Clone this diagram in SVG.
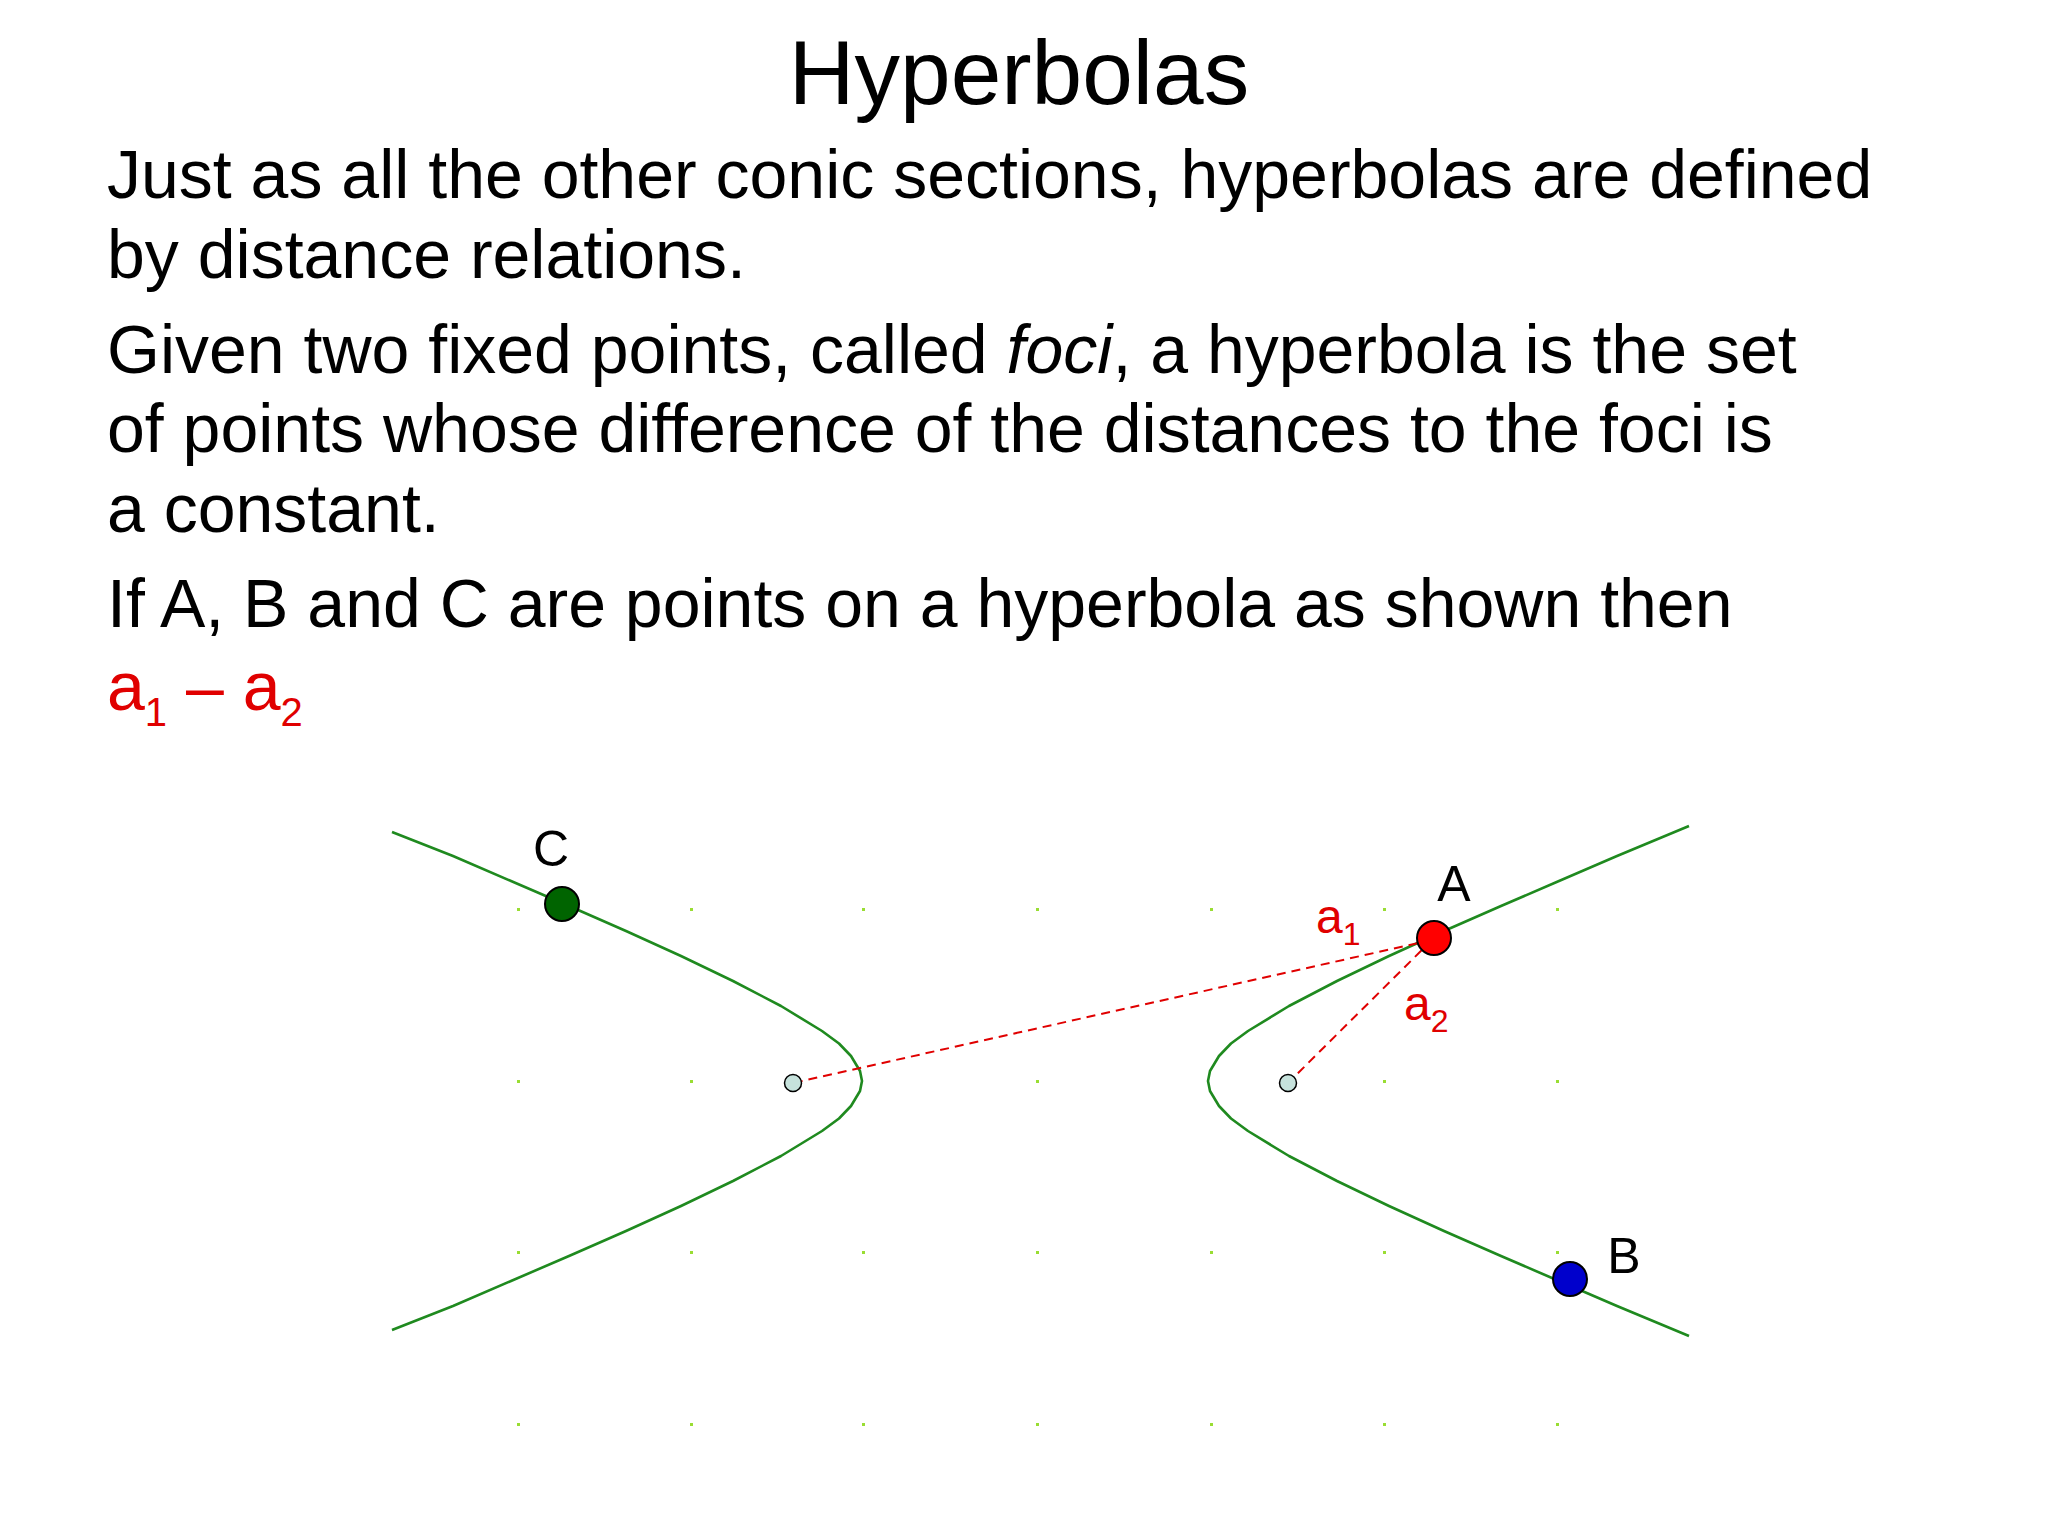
<svg xmlns="http://www.w3.org/2000/svg" width="2048" height="1536" viewBox="0 0 2048 1536">
<style>
text{font-family:"Liberation Sans",Arial,sans-serif}
.b{font-size:68px;fill:#000}
.r{fill:#e00000}
.g{fill:#99dd33}
.cv{fill:none;stroke:#1f8a1f;stroke-width:2.6;stroke-linejoin:round}
.d{stroke:#e00000;stroke-width:2;stroke-dasharray:9,6}
.lbl{font-size:50px;fill:#000}
</style>
<rect width="2048" height="1536" fill="#fff"/>
<text x="1019" y="104" font-size="91" text-anchor="middle">Hyperbolas</text>
<text class="b" x="107" y="198">Just as all the other conic sections, hyperbolas are defined</text>
<text class="b" x="107" y="278">by distance relations.</text>
<text class="b" x="107" y="373">Given two fixed points, called <tspan font-style="italic">foci</tspan>, a hyperbola is the set</text>
<text class="b" x="107" y="452">of points whose difference of the distances to the foci is</text>
<text class="b" x="107" y="532">a constant.</text>
<text class="b" x="107" y="627">If A, B and C are points on a hyperbola as shown then</text>
<text class="b r" x="107" y="710">a<tspan font-size="40" dy="16">1</tspan><tspan dy="-16"> – a</tspan><tspan font-size="40" dy="16">2</tspan></text>
<g id="grid">
<g class="g">
<rect x="517" y="908" width="3" height="3"/><rect x="690" y="908" width="3" height="3"/><rect x="862" y="908" width="3" height="3"/><rect x="1036" y="908" width="3" height="3"/><rect x="1210" y="908" width="3" height="3"/><rect x="1383" y="908" width="3" height="3"/><rect x="1556" y="908" width="3" height="3"/>
<rect x="517" y="1080" width="3" height="3"/><rect x="690" y="1080" width="3" height="3"/><rect x="1036" y="1080" width="3" height="3"/><rect x="1383" y="1080" width="3" height="3"/><rect x="1556" y="1080" width="3" height="3"/>
<rect x="517" y="1251" width="3" height="3"/><rect x="690" y="1251" width="3" height="3"/><rect x="862" y="1251" width="3" height="3"/><rect x="1036" y="1251" width="3" height="3"/><rect x="1210" y="1251" width="3" height="3"/><rect x="1383" y="1251" width="3" height="3"/><rect x="1556" y="1251" width="3" height="3"/>
<rect x="517" y="1423" width="3" height="3"/><rect x="690" y="1423" width="3" height="3"/><rect x="862" y="1423" width="3" height="3"/><rect x="1036" y="1423" width="3" height="3"/><rect x="1210" y="1423" width="3" height="3"/><rect x="1383" y="1423" width="3" height="3"/><rect x="1556" y="1423" width="3" height="3"/>
</g>
</g>
<g id="curves">
<polyline class="cv" points="1689,826 1617,856 1559,881 1501,906 1444,931 1389,956 1337,981 1289,1006 1248,1031 1231,1043.5 1219,1056 1210,1071 1208,1081 1210,1091 1219,1106 1231,1118.5 1248,1131 1289,1156 1337,1181 1389,1206 1444,1231 1501,1256 1559,1281 1617,1306 1689,1336"/>
<polyline class="cv" points="392,832 453,856 511,881 569,906 626,931 681,956 733,981 781,1006 822,1031 839,1043.5 851,1056 860,1071 862,1081 860,1091 851,1106 839,1118.5 822,1131 781,1156 733,1181 681,1206 626,1231 569,1256 511,1281 453,1306 392,1330"/>
</g>
<g id="connectors">
<line class="d" x1="1432" y1="940" x2="793" y2="1083"/>
<line class="d" x1="1432" y1="940" x2="1288" y2="1083"/>
</g>
<g id="focus1"><circle cx="793" cy="1083" r="8.5" fill="#c6e2dc" stroke="#000" stroke-width="1.5"/></g>
<g id="focus2"><circle cx="1288" cy="1083" r="8.5" fill="#c6e2dc" stroke="#000" stroke-width="1.5"/></g>
<g id="A"><circle cx="1434" cy="938" r="17" fill="#ff0000" stroke="#000" stroke-width="2"/><text class="lbl" x="1454" y="901" text-anchor="middle">A</text></g>
<g id="B"><circle cx="1570" cy="1279" r="17" fill="#0000cc" stroke="#000" stroke-width="2"/><text class="lbl" x="1624" y="1273" text-anchor="middle">B</text></g>
<g id="C"><circle cx="562" cy="904" r="17" fill="#006400" stroke="#000" stroke-width="2"/><text class="lbl" x="551" y="866" text-anchor="middle">C</text></g>
<g id="a1"><text class="r" font-size="48" x="1316" y="933">a<tspan font-size="32" dy="12">1</tspan></text></g>
<g id="a2"><text class="r" font-size="48" x="1404" y="1020">a<tspan font-size="32" dy="12">2</tspan></text></g>
</svg>
